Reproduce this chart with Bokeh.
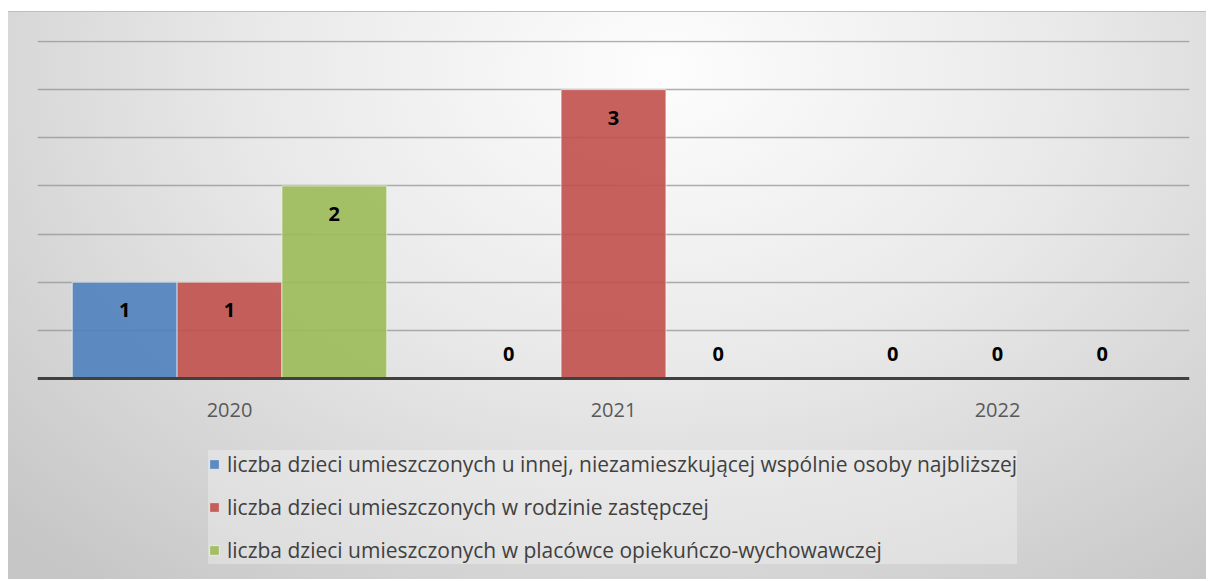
import numpy as np
from bokeh.plotting import figure
from bokeh.models import (ColumnDataSource, FactorRange, Range1d, Legend, LegendItem,
                          SingleIntervalTicker)
from bokeh.transform import dodge
from bokeh.core.properties import value
from bokeh.embed import file_html
from bokeh.resources import INLINE

years = ["2020", "2021", "2022"]
series_names = [
    "liczba dzieci umieszczonych u innej, niezamieszkującej wspólnie osoby najbliższej",
    "liczba dzieci umieszczonych w rodzinie zastępczej",
    "liczba dzieci umieszczonych w placówce opiekuńczo-wychowawczej",
]
blue_vals = [1, 0, 0]
red_vals = [1, 3, 0]
green_vals = [2, 0, 0]
colors = ["#4F81BD", "#C0504D", "#9BBB59"]

FONT = "Open Sans"

# frame: top at y=40 px, bottom at y=575 px; value 0 sits at y=378 px
PX_PER_UNIT = 337.0 / 3.5
y_top = 3.5 + 1.0 / PX_PER_UNIT
y_bottom = -(575 - 378) / PX_PER_UNIT

p = figure(x_range=FactorRange(*years, range_padding=0), y_range=Range1d(y_bottom, y_top),
           width=1206, height=579, output_backend="svg", toolbar_location=None,
           min_border_left=37, min_border_right=17, min_border_top=40, min_border_bottom=4)
p.background_fill_color = None
p.border_fill_color = None
p.outline_line_color = None
p.styles = {
    "background": (
        "linear-gradient(#ffffff,#ffffff) 0 0 / 100% 11px no-repeat, "
        "linear-gradient(#ffffff,#ffffff) 0 0 / 8px 100% no-repeat, "
        "linear-gradient(#bdbdbd,#bdbdbd) 8px 11px / 100% 1px no-repeat, "
        "radial-gradient(ellipse 75% 115% at 55% 12%, #fdfdfd 0%, #e9e9e9 45%, #c6c6c6 100%)"
    ),
}

data = {"year": years}
series = [blue_vals, red_vals, green_vals]
keys = ["s0", "s1", "s2"]
for k, vals in zip(keys, series):
    arr = np.array(vals, dtype=float)
    data[k] = arr
    data[k + "_lbl"] = [str(v) for v in vals]
    data[k + "_off"] = np.where(arr > 0, 28, -25)
src = ColumnDataSource(data)

bw = 0.273
offsets = [-bw, 0.0, bw]
items = []
for k, off, col, name in zip(keys, offsets, colors, series_names):
    r = p.vbar(x=dodge("year", off, range=p.x_range), top=k, width=bw, source=src,
               fill_color=col, fill_alpha=0.9, line_color="white", line_alpha=0.6, line_width=1)
    p.text(x=dodge("year", off, range=p.x_range), y=k, text=k + "_lbl", y_offset=k + "_off",
           source=src, text_align="center", text_baseline="middle",
           text_font=value(FONT), text_font_style="bold", text_font_size="20px",
           text_color="black")
    items.append(LegendItem(label=name, renderers=[r]))

p.ygrid.ticker = SingleIntervalTicker(interval=0.5)
p.ygrid.bounds = (0.25, 3.5)
p.ygrid.grid_line_color = "#8f8f8f"
p.ygrid.grid_line_alpha = 0.7
p.ygrid.grid_line_width = 1.5
p.xgrid.grid_line_color = None
p.yaxis.visible = False

ax = p.xaxis[0]
ax.fixed_location = 0
ax.axis_line_color = "#404040"
ax.axis_line_width = 3
ax.major_tick_line_color = None
ax.minor_tick_line_color = None
ax.major_label_standoff = 18
ax.major_label_text_font = FONT
ax.major_label_text_font_size = "20px"
ax.major_label_text_color = "#595959"

legend = Legend(items=items, location=(171, 11), orientation="vertical")
legend.margin = 0
legend.padding = 12
legend.spacing = 15
legend.glyph_width = 12
legend.glyph_height = 12
legend.label_standoff = 7
legend.label_text_font = FONT
legend.label_text_font_size = "21px"
legend.label_text_color = "#404040"
legend.background_fill_color = "white"
legend.background_fill_alpha = 0.3
legend.border_line_color = None
p.add_layout(legend, "center")

open("out.html", "w").write(file_html(p, INLINE))
